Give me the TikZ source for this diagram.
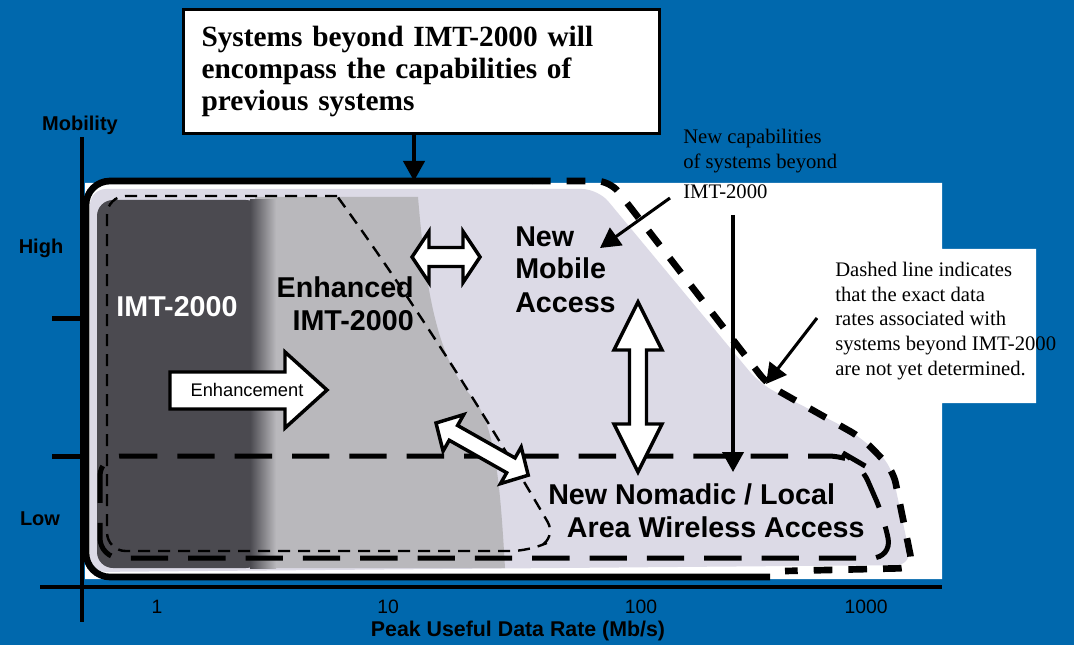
\documentclass[tikz,border=0pt]{standalone}
\usepackage{fontspec}
\setmainfont{Liberation Serif}
\newfontfamily\sansfont{Liberation Sans}
\usetikzlibrary{arrows.meta,positioning,calc}
\definecolor{bgblue}{HTML}{0068AD}
\definecolor{darkzone}{HTML}{4B4A50}
\definecolor{midzone}{HTML}{B9B8BC}
\definecolor{lightzone}{HTML}{DCDAE6}

% block arrow: origin, angle, length, head length, head width, shaft width
\newcommand{\blockarrow}[6]{%
  \begin{scope}[shift={#1},rotate=#2]
    \draw[blockarr] (0,0) -- (#4,#5/2) -- (#4,#6/2) -- (#3-#4,#6/2) -- (#3-#4,#5/2) -- (#3,0)
      -- (#3-#4,-#5/2) -- (#3-#4,-#6/2) -- (#4,-#6/2) -- (#4,-#5/2) -- cycle;
  \end{scope}}

\begin{document}
\begin{tikzpicture}[x=0.75pt,y=-0.75pt,
  zonetext/.style={font=\sansfont\bfseries\fontsize{21.5}{24.75}\selectfont,inner sep=0pt},
  axislabel/.style={font=\sansfont\bfseries\fontsize{15}{18}\selectfont,inner sep=0pt},
  ticklabel/.style={font=\sansfont\fontsize{14.5}{17}\selectfont,inner sep=0pt},
  note/.style={font=\fontsize{15.5}{18.5}\selectfont,inner sep=0pt,align=left},
  axisline/.style={line width=3pt},
  envelope/.style={line width=5pt},
  envdash/.style={envelope,dash pattern=on 14pt off 12pt},
  nomadicline/.style={line width=3.75pt,dash pattern=on 28pt off 15pt},
  thindash/.style={line width=1.8pt,dash pattern=on 9pt off 6pt},
  blockarr/.style={draw=black,fill=white,line width=2.6pt,line join=miter},
  pointer/.style={line width=2.3pt,-{Triangle[length=15pt,width=16pt]}}]
  \useasboundingbox (0,0) rectangle (1074,645);
  \fill[bgblue] (0,0) rectangle (1074,645);
  \fill[white] (85,183) -- (942,183) -- (942,249) -- (1036,249) -- (1036,403)
    -- (942,403) -- (942,579) -- (85,579) -- cycle;

  % capability zones
  \fill[lightzone,rounded corners=12] (90,189) -- (598,189) -- (760,384) -- (850,430)
    -- (890,462) -- (912,565) -- (90,572) -- cycle;
  \fill[midzone] (255,197) -- (418,197) .. controls (425,280) and (435,360) .. (475,400)
    .. controls (495,430) and (500,480) .. (505,568) -- (255,568) -- cycle;
  \fill[darkzone,rounded corners=12] (97,200) -- (262,200) -- (262,568) -- (97,568) -- cycle;
  \shade[left color=darkzone,right color=midzone] (250,200) rectangle (276,568);

  % boundaries
  \draw[thindash,rounded corners=14] (337,196) -- (107,196) -- (107,551) -- (530,551)
    -- (557,538) .. controls (500,440) and (420,310) .. (337,196);
  \draw[nomadicline,rounded corners=15] (100,456) -- (848,456) -- (860,463) -- (884,518)
    -- (892,558) -- (100,558) -- cycle;
  \draw[envelope,rounded corners=18] (532,181) -- (86,181) -- (86,577) -- (770,577);
  \draw[envdash,rounded corners=10] (532,181) -- (610,181) -- (768,385) -- (862,438)
    -- (893,470) -- (913,568) -- (785,571);

  % axes
  \draw[axisline] (82,137) -- (82,622);
  \draw[axisline] (40,587) -- (942,587);
  \draw[line width=3.75pt] (52,318) -- (82,318);
  \draw[line width=3.75pt] (52,456) -- (82,456);
  \node[axislabel,anchor=base] (mob) at (80,131) {Mobility};
  \node[axislabel,anchor=base] (high) at (41,253) {High};
  \node[axislabel,anchor=base] (low) at (40,525) {Low};
  \node[ticklabel,anchor=base] (t1) at (157,613) {1};
  \node[ticklabel,anchor=base] (t10) at (388,613) {10};
  \node[ticklabel,anchor=base] (t100) at (641,613) {100};
  \node[ticklabel,anchor=base] (t1000) at (866,613) {1000};
  \node[axislabel,anchor=base,font=\sansfont\bfseries\fontsize{16}{19}\selectfont] (rate) at (518,636) {Peak Useful Data Rate (Mb/s)};

  % block arrows
  \draw[blockarr] (170,372) -- (285,372) -- (285,352) -- (327,390) -- (285,428) -- (285,409) -- (170,409) -- cycle;
  \node[font=\sansfont\fontsize{13.7}{16}\selectfont,inner sep=0pt,anchor=base] (enh) at (247,396) {Enhancement};
  \blockarrow{(412,257)}{0}{68}{17}{51}{19}
  \blockarrow{(638,302)}{-90}{170}{48}{48}{17}
  \blockarrow{(436,423)}{-29.5}{106}{20}{42}{17}

  % zone labels (base = last line)
  \node[zonetext,text=white,anchor=base] (imt) at (177,316) {IMT-2000};
  \node[zonetext,align=right,anchor=base east] (enhimt) at (414,330) {Enhanced\\IMT-2000};
  \node[zonetext,align=left,anchor=base west] (mobile) at (515,312) {New\\Mobile\\Access};
  \node[zonetext,align=left,anchor=base west] (nomadic) at (548,537) {New Nomadic / Local\\\hspace*{14pt}Area Wireless Access};

  % notes
  \node[draw,line width=2.25pt,fill=white,anchor=north west,minimum width=351pt,minimum height=93pt,
    text width=330pt,inner xsep=13.5pt,align=left,font=\bfseries\fontsize{22}{24}\selectfont] (topbox) at (182,8)
    {Systems beyond IMT-2000 will\\encompass the capabilities of\\previous systems};
  \node[note,anchor=base west] (newcap) at (683,199) {New capabilities\\of systems beyond\\[4.5pt]IMT-2000};
  \node[note,anchor=base west] (dashnote) at (835,375) {Dashed line indicates\\that the exact data\\rates associated with\\systems beyond IMT-2000\\are not yet determined.};

  % pointers
  \coordinate (envtop) at (414,181);
  \coordinate (capfrom) at (670,198);
  \coordinate (capto) at (600,248);
  \coordinate (linefrom) at (733,215);
  \coordinate (lineto) at (733,472);
  \coordinate (dashfrom) at (817,318);
  \coordinate (dashto) at (766,384);
  \draw[pointer] (topbox.south -| envtop) -- (envtop);
  \draw[pointer] (capfrom) -- (capto);
  \draw[pointer] (linefrom) -- (lineto);
  \draw[pointer] (dashfrom) -- (dashto);
\end{tikzpicture}
\end{document}
